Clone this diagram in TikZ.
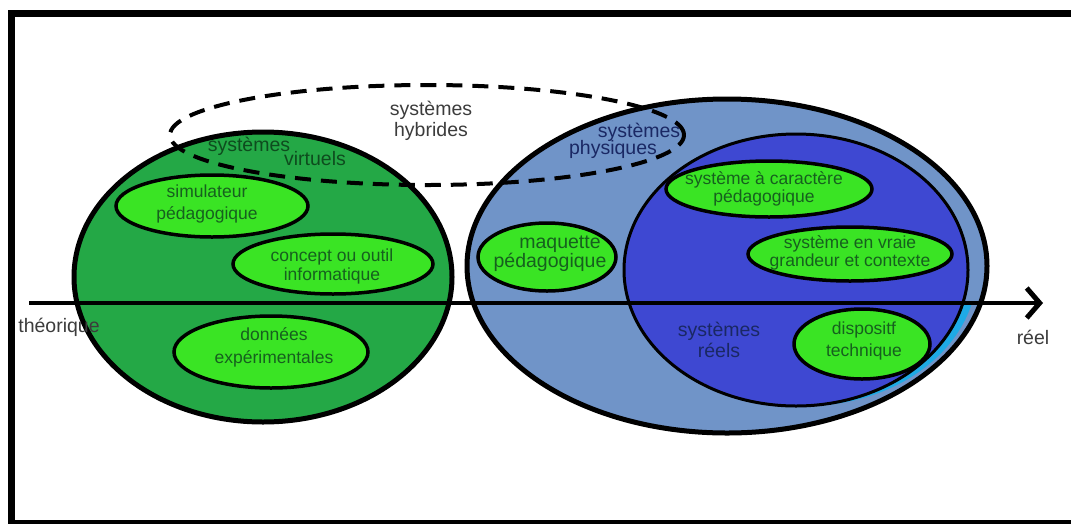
\documentclass[tikz,border=0pt]{standalone}
\usepackage{fontspec}
\setmainfont{Liberation Sans}
\usetikzlibrary{shapes.geometric,arrows.meta}

\definecolor{virtgreen}{RGB}{36,168,70}
\definecolor{itemgreen}{RGB}{58,228,36}
\definecolor{physblue}{RGB}{112,148,200}
\definecolor{realblue}{RGB}{62,72,210}
\definecolor{edgecyan}{RGB}{30,170,230}
\definecolor{itemink}{RGB}{22,96,30}
\definecolor{virtink}{RGB}{14,76,30}
\definecolor{blueink}{RGB}{26,40,100}
\definecolor{greyink}{RGB}{60,60,60}

\tikzset{
  sysarea/.style={ellipse, draw=black, line width=5pt, inner sep=0pt},
  itembox/.style={ellipse, draw=black, fill=itemgreen, line width=3.5pt, inner sep=0pt},
  itemlabel/.style={align=center, text=itemink, inner sep=0pt,
    font=\fontsize{17.5}{#1}\selectfont},
  itemlabel/.default=20,
  biglabel/.style={align=center, inner sep=0pt, font=\fontsize{19.5}{21}\selectfont},
  hybridarea/.style={ellipse, draw=black, line width=4pt, dash pattern=on 16pt off 10pt, inner sep=0pt},
  axisline/.style={line width=4pt, -{Straight Barb[length=13pt,width=30pt,line width=5pt]}}
}

\begin{document}
\begin{tikzpicture}[x=1pt,y=-1pt]
\useasboundingbox (0,0) rectangle (1071,523);
\fill[white] (0,0) rectangle (1071,523);

% outer frame (its right and lower sides run past the page edge)
\begin{scope}
  \clip (0,0) rectangle (1071,523);
  \draw[line width=7pt] (11,13.5) rectangle (1075,523.5);
\end{scope}

% the two domains
\node[sysarea, fill=virtgreen, minimum width=378pt, minimum height=290pt] (virt) at (263,277) {};
\node[sysarea, fill=physblue, minimum width=520pt, minimum height=334pt] (phys) at (727,266) {};

% light edge below the axis, between real and physical systems
\begin{scope}
  \clip (600,304) rectangle (1000,430);
  \fill[edgecyan] (805,270) ellipse [x radius=172pt, y radius=136pt];
\end{scope}
\node[ellipse, draw=black, line width=3pt, fill=realblue, inner sep=0pt,
      minimum width=344pt, minimum height=272pt] (real) at (796,270) {};

% axis from theory to reality
\coordinate (axis-l) at (29,303);
\coordinate (axis-r) at (1043,303);
\draw[axisline] (axis-l) -- (axis-r);

% hybrid systems
\node[hybridarea, minimum width=514pt, minimum height=100pt] (hyb) at (427,135) {};

% items
\node[itembox, minimum width=192pt, minimum height=62pt] (simu) at (212,206) {};
\node[itembox, minimum width=200pt, minimum height=60pt] (concept) at (333,264) {};
\node[itembox, minimum width=194pt, minimum height=72pt] (donnees) at (271,352) {};
\node[itembox, minimum width=138pt, minimum height=68pt] (maquette) at (547,257) {};
\node[itembox, minimum width=206pt, minimum height=56pt] (caract) at (769,189) {};
\node[itembox, minimum width=204pt, minimum height=54pt] (vraie) at (850,254) {};
\node[itembox, minimum width=136pt, minimum height=70pt] (dispo) at (862,344) {};

\node[itemlabel=22] (simu-t) at (207,204) {simulateur\\pédagogique};
\node[itemlabel=19] (concept-t) at (332,266) {concept ou outil\\informatique};
\node[itemlabel=23] (donnees-t) at (274,347) {données\\expérimentales};
\node[align=center, text=itemink, inner sep=0pt, font=\fontsize{19.5}{15}\selectfont]
  (maquette-t) at (550,254) {\hspace*{20pt}maquette\\pédagogique};
\node[itemlabel=18] (caract-t) at (764,189) {système à caractère\\pédagogique};
\node[itemlabel=18] (vraie-t) at (850,253) {système en vraie\\grandeur et contexte};
\node[itemlabel=22] (dispo-t) at (864,341) {dispositf\\technique};

% domain labels
\node[biglabel, text=greyink] (hyb-t) at (431,121) {systèmes\\hybrides};
\node[biglabel, text=virtink] (virt-t1) at (249,146) {systèmes};
\node[biglabel, text=virtink] (virt-t2) at (315,159) {virtuels};
\node[biglabel, text=blueink] (phys-t1) at (639,132) {systèmes};
\node[biglabel, text=blueink] (phys-t2) at (613,149) {physiques};
\node[biglabel, text=blueink] (real-t) at (719,340) {systèmes\\réels};

% axis ends
\node[biglabel, text=greyink] (theo-t) at (59,327) {théorique};
\node[biglabel, text=greyink] (reel-t) at (1033,337) {réel};
\end{tikzpicture}
\end{document}
